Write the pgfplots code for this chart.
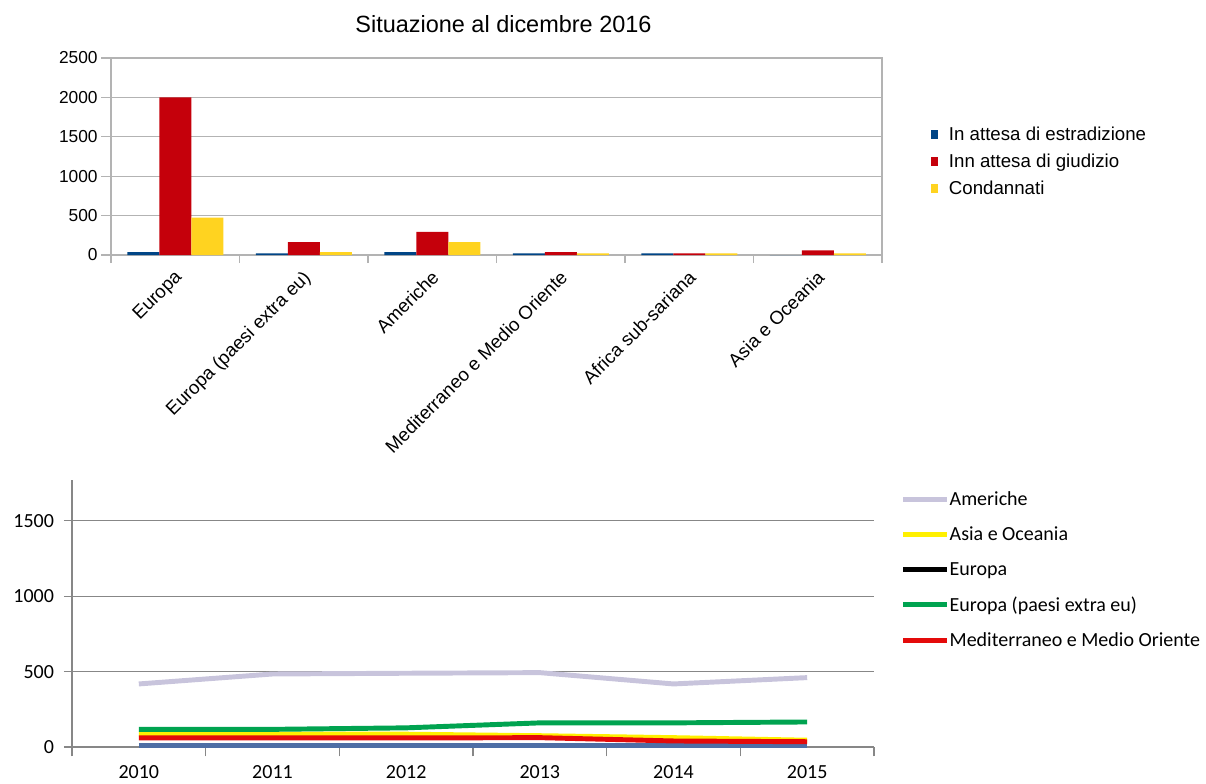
\documentclass[border=0pt]{standalone}
\usepackage{fontspec}
\setmainfont{Liberation Sans}
\newfontfamily\calibri{Carlito}
\usepackage{pgfplots}
\pgfplotsset{compat=1.18}
\definecolor{cblue}{HTML}{004586}
\definecolor{cred}{HTML}{C5000B}
\definecolor{cyellow}{HTML}{FFD320}
\definecolor{lamer}{RGB}{200,196,220}
\definecolor{lasia}{RGB}{255,240,0}
\definecolor{lgreen}{RGB}{0,163,80}
\definecolor{lred}{RGB}{228,10,10}
\definecolor{lblue}{RGB}{78,110,165}
\definecolor{gridc}{RGB}{179,179,179}
\definecolor{gridd}{RGB}{135,135,135}
\pgfplotsset{
  sqlegend/.style={legend image code/.code={\fill[##1] (0pt,-3.6pt) rectangle (5.6pt,3.6pt);}},
  lnlegend/.style={legend image code/.code={\draw[##1] (0pt,0pt) -- (32.5pt,0pt);}},
}
\pgfplotstableread{
x blue red yellow
0 38 2000 475
1 21 165 38
2 38 292 165
3 21 38 21
4 21 21 21
5 0 60 21
}\bars
\pgfplotstableread{
x amer asia green red blue
0 418 85 117 60 9
1 484 85 117 60 9
2 489 85 127 60 9
3 493 75 160 62 9
4 418 62 160 40 9
5 460 45 166 35 9
}\lines
\begin{document}
\begin{tikzpicture}
\path[use as bounding box] (0,0) rectangle (904.5pt,-588pt);
\node[anchor=base,font=\fontsize{17.6}{20}\selectfont] at (377.6pt,-24.75pt) {Situazione al dicembre 2016};
\begin{axis}[
  at={(83.25pt,-191.25pt)}, anchor=south west,
  scale only axis, width=578.25pt, height=147.75pt,
  ybar=0pt, bar width=24pt,
  xmin=-0.5, xmax=5.5, ymin=0, ymax=2500,
  ytick={0,500,...,2500},
  xtick={0,...,5},
  xticklabels={Europa,Europa (paesi extra eu),Americhe,Mediterraneo e Medio Oriente,Africa sub-sariana,Asia e Oceania},
  minor xtick={-0.5,0.5,...,5.5},
  major x tick style={draw=none},
  tick align=outside, major tick length=7.5pt, minor tick length=6pt,
  xtick pos=bottom, ytick pos=left,
  ymajorgrids, grid style={gridc, line width=0.9pt},
  axis line style={gridc, line width=0.9pt},
  tick style={gridc, line width=0.9pt},
  minor tick style={gridc, line width=0.9pt},
  yticklabel style={font=\fontsize{13}{15}\selectfont, xshift=1pt},
  xticklabel style={font=\fontsize{14}{16}\selectfont, rotate=45, anchor=north east, inner sep=1pt, xshift=-2pt},
  /pgf/number format/assume math mode=true,
  /pgf/number format/1000 sep={},
  legend style={at={(1.063,0.665)}, anchor=north west, draw=none, fill=none,
    font=\fontsize{14}{16}\selectfont, row sep=4.6pt, inner sep=0pt,
    nodes={inner sep=2pt}},
  legend cell align=left,
]
\addplot[fill=cblue, draw=none, sqlegend] table[x=x,y=blue] {\bars};
\addplot[fill=cred, draw=none, sqlegend] table[x=x,y=red] {\bars};
\addplot[fill=cyellow, draw=none, sqlegend] table[x=x,y=yellow] {\bars};
\legend{\hspace{6pt}In attesa di estradizione,\hspace{6pt}Inn attesa di giudizio,\hspace{6pt}Condannati}
\end{axis}
\begin{axis}[
  at={(54pt,-560.25pt)}, anchor=south west,
  scale only axis, width=601.5pt, height=200.25pt,
  xmin=-0.5, xmax=5.5, ymin=0, ymax=1770,
  ytick={0,500,1000,1500},
  xtick={0,...,5},
  xticklabels={2010,2011,2012,2013,2014,2015},
  minor xtick={-0.5,0.5,...,5.5},
  major x tick style={draw=none},
  axis x line*=bottom, axis y line*=left,
  tick align=outside, major tick length=6pt, minor tick length=7pt,
  ymajorgrids, grid style={gridd, line width=0.9pt},
  axis line style={gridd, line width=0.9pt},
  tick style={gridd, line width=0.9pt},
  minor tick style={gridd, line width=0.9pt},
  ticklabel style={font=\calibri\fontsize{15}{17}\selectfont},
  yticklabel style={xshift=-4pt},
  xticklabel style={yshift=-4pt},
  /pgf/number format/assume math mode=true,
  /pgf/number format/1000 sep={},
  legend style={at={(1.033,0.96)}, anchor=north west, draw=none, fill=none,
    font=\calibri\fontsize{15}{17}\selectfont, row sep=13.6pt, inner sep=0pt,
    nodes={inner sep=0.5pt}},
  legend cell align=left,
  every axis plot/.append style={line width=3.7pt, lnlegend},
]
\addplot[lblue, forget plot] table[x=x,y=blue] {\lines};
\addplot[lamer] table[x=x,y=amer] {\lines};
\addplot[lasia] table[x=x,y=asia] {\lines};
\addlegendimage{black}
\addplot[lgreen] table[x=x,y=green] {\lines};
\addplot[lred] table[x=x,y=red] {\lines};
\legend{Americhe,Asia e Oceania,Europa,Europa (paesi extra eu),Mediterraneo e Medio Oriente}
\end{axis}
\end{tikzpicture}
\end{document}
